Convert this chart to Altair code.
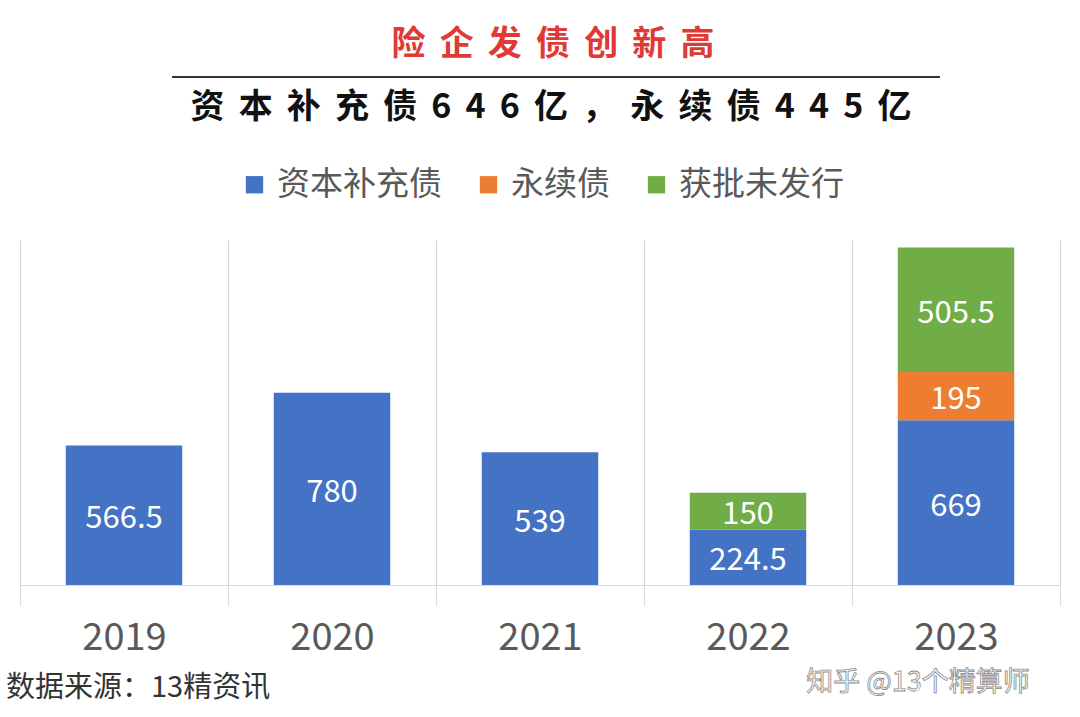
import altair as alt
import pandas as pd

years = ["2019", "2020", "2021", "2022", "2023"]
capital = [566.5, 780, 539, 224.5, 669]
perpetual = [0, 0, 0, 0, 195]
approved = [0, 0, 0, 150, 505.5]
series = ["资本补充债", "永续债", "获批未发行"]
colors = ["#4472C4", "#ED7D31", "#70AD47"]

SP = "\u2005\u2006"
title = SP.join("险企发债创新高")
subtitle = SP.join("资本补充债646亿，永续债445亿")
source = "数据来源：13精资讯"
mark_txt = "知乎 @13个精算师"

rows = []
for i, y in enumerate(years):
    for k, (s, vals) in enumerate(zip(series, [capital, perpetual, approved])):
        if vals[i] > 0:
            rows.append({"year": y, "series": s, "value": vals[i], "order": k,
                         "label": f"{vals[i]:g}"})
df = pd.DataFrame(rows)

FONT = "Noto Sans CJK SC"

x = alt.X("year:N", sort=years, title=None,
          scale=alt.Scale(paddingInner=0, paddingOuter=0),
          axis=alt.Axis(grid=True, tickBand="extent", gridColor="#D9D9D9",
                        domainColor="#D9D9D9", tickColor="#D9D9D9", tickSize=20,
                        labelFontSize=38, labelColor="#595959", labelFont=FONT,
                        labelPadding=14, labelAngle=0, gridWidth=1.2, domainWidth=1.2))
y = alt.Y("value:Q", stack="zero", axis=None, scale=alt.Scale(domain=[0, 1400]))

bars = alt.Chart(df).mark_bar(width=alt.RelativeBandSize(0.56)).encode(
    x=x, y=y,
    color=alt.Color("series:N", sort=series,
                    scale=alt.Scale(domain=series, range=colors),
                    legend=alt.Legend(title=None, orient="none", direction="horizontal",
                                      legendX=218, legendY=-72, symbolType="square",
                                      symbolSize=300, symbolStrokeWidth=0,
                                      labelFontSize=33, labelFont=FONT, labelLimit=0,
                                      labelColor="#595959", columnPadding=30,
                                      symbolOffset=0, labelOffset=6)),
    order=alt.Order("order:Q"),
)

labels = alt.Chart(df).mark_text(color="white", fontSize=31, font=FONT,
                                 baseline="middle", dy=4).encode(
    x=alt.X("year:N", sort=years),
    y=alt.Y("value:Q", stack="zero", bandPosition=0.5),
    detail="series:N",
    order=alt.Order("order:Q"),
    text="label:N",
)

def txt(t, **kw):
    return alt.Chart(pd.DataFrame({"t": [t]})).mark_text(**kw).encode(text="t:N")

title_t = txt(title, fontSize=34, font=FONT, fontWeight="bold", color="#E03A36",
              align="center", baseline="middle").encode(x=alt.value(533), y=alt.value(-195))
rule = alt.Chart(pd.DataFrame({"a": [0]})).mark_rule(color="#333333", strokeWidth=2).encode(
    x=alt.value(152), x2=alt.value(920), y=alt.value(-163))
sub_t = txt(subtitle, fontSize=34, font=FONT, fontWeight="bold", color="#111111",
            align="center", baseline="middle").encode(x=alt.value(531), y=alt.value(-132))
src_t = txt(source, fontSize=29, font=FONT, color="#333333",
            align="left", baseline="middle").encode(x=alt.value(-14), y=alt.value(448))
wm_t = txt(mark_txt, fontSize=27, font=FONT, color="#FFFFFF", stroke="#8a8a8a",
           strokeWidth=0.8, align="center", baseline="middle").encode(
    x=alt.value(898), y=alt.value(443))

chart = alt.layer(bars, labels, title_t, rule, sub_t, src_t, wm_t).properties(
    width=1040, height=345,
    autosize=alt.AutoSizeParams(type="none"),
    padding={"left": 20, "top": 240, "right": 20, "bottom": 132},
    background="white",
).configure_view(stroke=None)

chart.save("out.html", embed_options={"renderer": "svg", "actions": False})
